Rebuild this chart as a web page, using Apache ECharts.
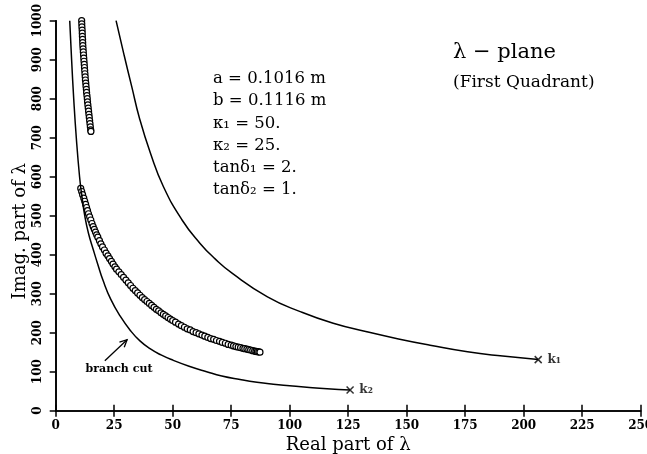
<!DOCTYPE html>
<html>
<head>
    <meta charset="utf-8" />
    <title>lambda plane</title>
    <script src="https://cdn.jsdelivr.net/npm/echarts@6/dist/echarts.min.js"></script>
    <style>
        html, body { margin: 0; padding: 0; background: #fff; }
        #chart { width: 647px; height: 454px; }
    </style>
</head>
<body>
    <div id="chart"></div>
    <script type="text/javascript">

        var xTicks = [0, 25, 50, 75, 100, 125, 150, 175, 200, 225, 250];
        var yTicks = [0, 100, 200, 300, 400, 500, 600, 700, 800, 900, 1000];

        // curve ending at k1
        var curveK1 = [[25.8, 1000], [29.3, 910], [32.5, 831], [35.8, 750], [40.5, 660], [46, 575],
            [54, 489], [61.7, 429], [68, 390], [75.5, 352], [90.5, 292], [104.5, 254], [118.6, 224],
            [132.5, 203], [146.5, 184], [160, 168], [176, 151], [191, 140], [206.2, 131]];

        // branch cut, ending at k2
        var branchCut = [[6.0, 1000], [6.8, 900], [7.7, 800], [8.8, 700], [10.2, 600], [11.2, 550],
            [12.5, 497], [14, 455], [16.1, 412], [18, 375], [20.3, 333], [23.5, 286], [27.5, 243],
            [32, 205], [36, 179], [40.3, 159], [45, 143], [50.3, 129], [57, 114], [64.5, 100],
            [71, 89], [78.8, 80], [86, 73], [93, 68], [100, 64], [107.3, 60], [116, 56], [125.8, 53]];

        // upper string of circles
        var rootsUpper = [[11.1, 1000], [11.15, 992], [11.2, 984], [11.3, 976], [11.35, 968], [11.4, 960],
            [11.5, 952], [11.55, 944], [11.6, 936], [11.7, 928], [11.8, 920], [11.9, 912], [12.0, 904],
            [12.1, 896], [12.2, 888], [12.3, 880], [12.4, 872], [12.5, 864], [12.6, 856], [12.7, 848],
            [12.85, 840], [12.95, 832], [13.1, 824], [13.2, 816], [13.35, 808], [13.5, 800], [13.6, 792],
            [13.75, 784], [13.9, 776], [14.05, 768], [14.2, 760], [14.35, 752], [14.5, 744], [14.65, 736],
            [14.8, 728], [14.95, 720], [15.05, 716]];

        // lower string of circles
        var rootsLower = [[10.7, 570], [11.1, 562], [11.5, 554], [12, 545], [12.4, 537], [12.8, 529],
            [13.2, 521], [13.6, 513], [14, 505], [14.5, 497], [15, 489], [15.5, 480], [16, 472],
            [16.5, 465], [17, 458], [17.5, 451], [18, 445], [18.7, 436], [19.3, 428], [20, 420],
            [20.8, 412], [21.5, 404], [22.3, 397], [23, 390], [23.8, 383], [24.5, 376], [25.3, 369],
            [26, 363], [27, 356], [28, 349], [29, 342], [30, 335], [31, 328], [32, 321], [33, 314],
            [34, 308], [35, 302], [36, 296], [37, 290], [38, 285], [39, 280], [40, 275], [41, 270],
            [42, 265], [43, 260], [44, 256], [45, 251], [46, 247], [47, 243], [48, 239], [49, 235],
            [50, 231], [51.2, 227], [52.5, 222], [53.7, 218], [55, 214], [56.2, 210], [57.5, 207],
            [58.7, 203], [60, 200], [61.2, 197], [62.5, 194], [63.7, 191], [65, 188], [66.2, 185],
            [67.5, 183], [68.7, 180], [70, 178], [71.2, 175], [72.5, 173], [73.7, 170], [75, 168],
            [76, 166], [77, 164.5], [78, 163], [79, 161.5], [80, 160], [80.8, 159], [81.7, 158],
            [82.5, 156.5], [83.3, 155.5], [84.2, 154], [85, 153], [85.6, 152], [86.2, 151.3],
            [86.8, 150.7], [87.3, 150]];

        var kPoints = [[206.2, 131], [125.8, 53]];
        var kNames = ['k\u2081', 'k\u2082'];

        var arrowFrom = [21, 128];
        var arrowTo = [30.5, 182];

        var paramLines = ['a = 0.1016 m', 'b = 0.1116 m', '\u03ba\u2081 = 50.', '\u03ba\u2082 = 25.',
            'tan\u03b4\u2081 = 2.', 'tan\u03b4\u2082 = 1.'];

        var serif = '"DejaVu Serif", "Liberation Serif", serif';

        var chart = echarts.init(document.getElementById('chart'), null, { renderer: 'canvas' });

        var axisLine = { show: true, lineStyle: { color: '#000', width: 1.6 } };

        var option = {
            animation: false,
            backgroundColor: '#fff',
            grid: { left: 55.7, right: 6.3, top: 20.7, bottom: 43.3, containLabel: false, outerBoundsMode: 'none' },
            xAxis: [{
                type: 'value', position: 'bottom', min: xTicks[0], max: xTicks[xTicks.length - 1], interval: 25,
                axisLine: axisLine,
                axisTick: { show: true, inside: false, length: 6, lineStyle: { color: '#000', width: 1.5 } },
                axisLabel: { color: '#000', fontFamily: serif, fontWeight: 'bold', fontSize: 12, margin: 9,
                    showMinLabel: true, showMaxLabel: true, hideOverlap: false },
                splitLine: { show: false },
                name: 'Real part of \u03bb', nameLocation: 'middle', nameGap: 20,
                nameTextStyle: { color: '#000', fontFamily: serif, fontSize: 18, verticalAlign: 'top' }
            }, {
                type: 'value', position: 'top', min: xTicks[0], max: xTicks[xTicks.length - 1], interval: 25,
                axisLine: axisLine,
                axisTick: { show: true, inside: false, length: 6, lineStyle: { color: '#000', width: 1.5 } },
                axisLabel: { show: false }, splitLine: { show: false }
            }],
            yAxis: [{
                type: 'value', position: 'left', min: yTicks[0], max: yTicks[yTicks.length - 1], interval: 100,
                axisLine: axisLine,
                axisTick: { show: true, inside: false, length: 6, lineStyle: { color: '#000', width: 1.5 } },
                axisLabel: { color: '#000', fontFamily: serif, fontWeight: 'bold', fontSize: 12, rotate: 90, margin: 12,
                    formatter: function (v) { return String(v); }, showMinLabel: true, showMaxLabel: true, hideOverlap: false },
                splitLine: { show: false }
            }, {
                type: 'value', position: 'right', min: yTicks[0], max: yTicks[yTicks.length - 1], interval: 100,
                axisLine: axisLine,
                axisTick: { show: true, inside: true, length: 6, lineStyle: { color: '#000', width: 1.5 } },
                axisLabel: { show: false }, splitLine: { show: false }
            }],
            series: [{
                type: 'line', data: curveK1, smooth: 0.5, showSymbol: false, clip: true,
                lineStyle: { color: '#000', width: 1.5 }
            }, {
                type: 'line', data: branchCut, smooth: 0.5, showSymbol: false, clip: true,
                lineStyle: { color: '#000', width: 1.5 }
            }, {
                type: 'scatter', data: rootsUpper, symbol: 'circle', symbolSize: 6, clip: false,
                itemStyle: { color: '#fff', borderColor: '#000', borderWidth: 1.2, opacity: 1 }
            }, {
                type: 'scatter', data: rootsLower, symbol: 'circle', symbolSize: 6, clip: false,
                itemStyle: { color: '#fff', borderColor: '#000', borderWidth: 1.2, opacity: 1 }
            }, {
                type: 'scatter',
                data: kPoints.map(function (p, i) {
                    return { value: p, label: { formatter: kNames[i] } };
                }),
                symbol: 'path://M0,0L10,10M10,0L0,10', symbolSize: 7,
                itemStyle: { color: 'rgba(0,0,0,0)', borderColor: '#000', borderWidth: 1.5 },
                label: {
                    show: true, position: 'right', distance: 5, color: '#000',
                    fontFamily: serif, fontWeight: 'bold', fontSize: 12
                }
            }]
        };

        chart.setOption(option);

        // annotations placed through the axes' scales
        var a0 = chart.convertToPixel({ gridIndex: 0 }, arrowFrom);
        var a1 = chart.convertToPixel({ gridIndex: 0 }, arrowTo);
        var ang = Math.atan2(a1[1] - a0[1], a1[0] - a0[0]);
        var headLen = 8, headAng = 0.45;
        var h1 = [a1[0] - headLen * Math.cos(ang - headAng), a1[1] - headLen * Math.sin(ang - headAng)];
        var h2 = [a1[0] - headLen * Math.cos(ang + headAng), a1[1] - headLen * Math.sin(ang + headAng)];
        var yName = chart.convertToPixel({ yAxisIndex: 0 }, 460);

        var graphics = [{
            type: 'line', shape: { x1: a0[0], y1: a0[1], x2: a1[0], y2: a1[1] },
            style: { stroke: '#000', lineWidth: 1.3 }
        }, {
            type: 'polyline', shape: { points: [h1, a1, h2] },
            style: { stroke: '#000', lineWidth: 1.3, fill: null }
        }, {
            type: 'text', x: 119, y: 369,
            style: { text: 'branch cut', fill: '#000', font: 'bold 11px ' + serif, textAlign: 'center', textVerticalAlign: 'middle' }
        }, {
            type: 'text', x: 20, y: yName, rotation: Math.PI / 2,
            style: { text: 'Imag. part of \u03bb', fill: '#000', font: '18px ' + serif, textAlign: 'center', textVerticalAlign: 'middle' }
        }, {
            type: 'text', x: 453, y: 53,
            style: { text: '\u03bb \u2212 plane', fill: '#000', font: '21px ' + serif, textVerticalAlign: 'middle' }
        }, {
            type: 'text', x: 453, y: 83,
            style: { text: '(First Quadrant)', fill: '#000', font: '17px ' + serif, textVerticalAlign: 'middle' }
        }];

        paramLines.forEach(function (t, i) {
            graphics.push({
                type: 'text', x: 213, y: 79 + i * 22.2,
                style: { text: t, fill: '#000', font: '16.5px ' + serif, textVerticalAlign: 'middle' }
            });
        });

        chart.setOption({ graphic: graphics });
    </script>
</body>
</html>
